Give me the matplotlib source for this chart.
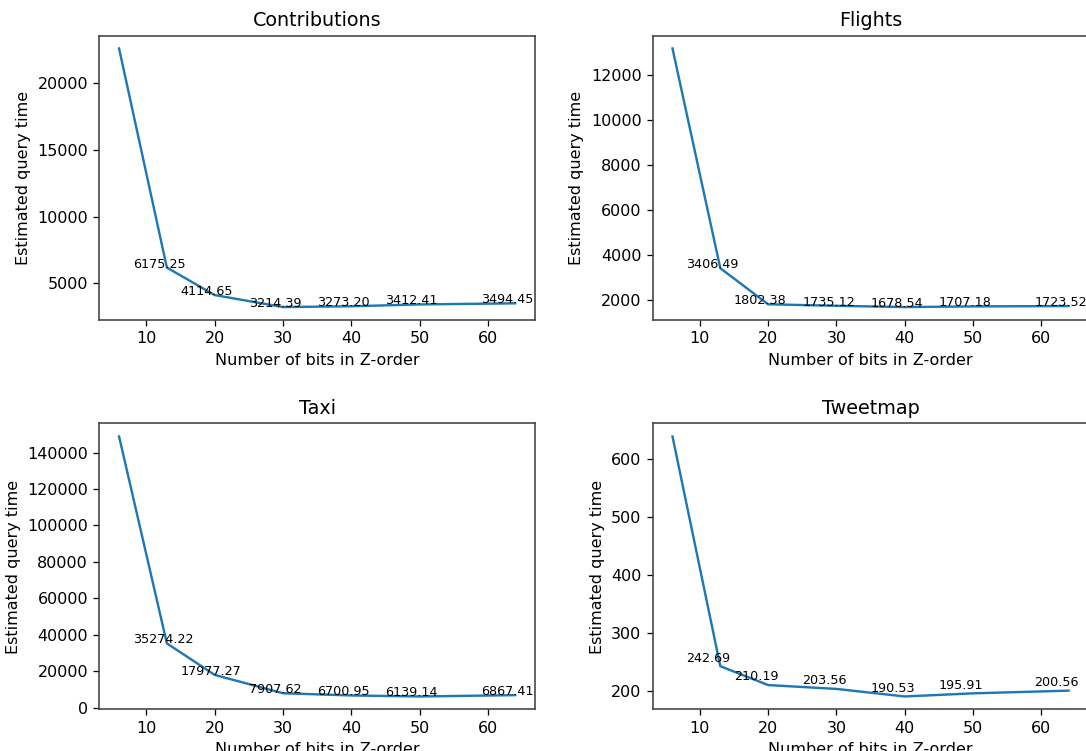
"""
Tiempo estimado de consulta vs. número de bits en el Z-order,
un panel por dataset.
"""
import matplotlib
matplotlib.use("Agg")
import matplotlib.pyplot as plt

bits = [6, 13, 20, 30, 40, 50, 64]

contributions = [22620, 6175.25, 4114.65, 3214.39, 3273.20, 3412.41, 3494.45]
flights = [13180, 3406.49, 1802.38, 1735.12, 1678.54, 1707.18, 1723.52]
taxi = [148800, 35274.22, 17977.27, 7907.62, 6700.95, 6139.14, 6867.41]
tweetmap = [638.5, 242.69, 210.19, 203.56, 190.53, 195.91, 200.56]

titles = ["Contributions", "Flights", "Taxi", "Tweetmap"]
series = [contributions, flights, taxi, tweetmap]

# posiciones de los ejes (en fracción de la figura)
posiciones = [
    [0.0914, 0.5739, 0.4012, 0.3788],
    [0.6010, 0.5739, 0.4012, 0.3788],
    [0.0914, 0.0553, 0.4012, 0.3808],
    [0.6010, 0.0553, 0.4012, 0.3808],
]

DPI = 115
fig = plt.figure(figsize=(1086 / DPI, 751 / DPI), dpi=DPI)

for titulo, valores, pos in zip(titles, series, posiciones):
    ax = fig.add_axes(pos)
    ax.plot(bits, valores)
    # etiquetas de cada punto (salvo el primero)
    for x, y in zip(bits[1:], valores[1:]):
        ax.text(x - 5, y + 8, f"{y:.2f}", fontsize=8)
    ax.set_title(titulo)
    ax.set_xlabel("Number of bits in Z-order")
    ax.set_ylabel("Estimated query time")
    for spine in ax.spines.values():
        spine.set_color("#404040")
        spine.set_linewidth(1.0)

fig.savefig("out.png", dpi=DPI)
